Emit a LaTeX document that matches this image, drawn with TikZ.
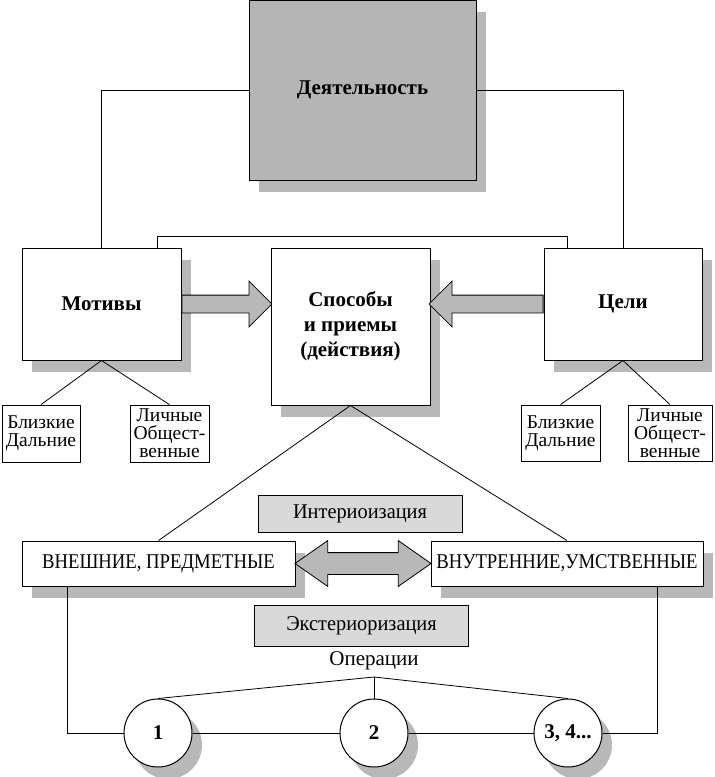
\documentclass[tikz,border=0pt]{standalone}
\usepackage{fontspec}
\setmainfont{Liberation Serif}
\newfontfamily\narrowfont[FakeStretch=0.89]{Liberation Serif}
\newfontfamily\tagfont[FakeStretch=0.97]{Liberation Serif}
\usetikzlibrary{shapes.arrows,shadows}

\definecolor{actgray}{gray}{0.71}
\definecolor{shadegray}{gray}{0.72}
\definecolor{taggray}{gray}{0.85}

\begin{document}
\begin{tikzpicture}[x=1pt,y=-1pt,
    box/.style={draw, fill=white, line width=1pt, inner sep=0pt, align=center,
        drop shadow={shadow xshift=10pt,shadow yshift=-12pt,fill=shadegray,opacity=1}},
    head/.style={font={\fontsize{21}{25}\selectfont\bfseries}},
    small/.style={draw, fill=white, line width=0.8pt, inner sep=0pt, align=center,
        font={\fontsize{19.5}{18}\selectfont}},
    tag/.style={draw, fill=taggray, line width=0.8pt, inner sep=0pt,
        font={\fontsize{21}{23}\selectfont\tagfont}},
    wide/.style={box, font={\fontsize{21}{23}\selectfont\narrowfont}},
    ring/.style={box, circle, minimum size=68pt, font={\fontsize{21}{23}\selectfont\bfseries}},
    fat/.style={draw, fill=shadegray, line width=0.8pt, single arrow, inner sep=0pt,
        text height=17pt, text depth=0pt, single arrow head extend=14pt,
        single arrow head indent=0pt},
    link/.style={line width=0.8pt},
    ]

    \useasboundingbox (0,0) rectangle (715,777);

    % top block
    \node[box, fill=actgray, head, minimum width=227pt, minimum height=180pt]
        (act) at (362.5,90) {Деятельность};

    % second row
    \node[box, head, minimum width=159pt, minimum height=112pt] (mot) at (101.5,304) {Мотивы};
    \node[box, head, minimum width=159pt, minimum height=157pt] (way) at (350.5,326.5)
        {Способы\\и приемы\\(действия)};
    \node[box, head, minimum width=158pt, minimum height=112pt] (goal) at (623,304) {Цели};

    \draw[link] (act.west) -| (mot.north);
    \draw[link] (act.east) -| (goal.north);
    \draw[link] ([xshift=56pt]mot.north) -- ++(0,-11) -| ([xshift=-56pt]goal.north);

    % block arrows
    \node[fat, anchor=tail, minimum height=90pt] (motway) at (mot.east) {};
    \node[fat, anchor=tail, shape border rotate=180, minimum height=114pt]
        (goalway) at (goal.west) {};

    % kinds
    \node[small, minimum width=78pt, minimum height=57pt] (mnear) at (41,433.5) {Близкие\\Дальние};
    \node[small, minimum width=79pt, minimum height=57pt] (mpers) at (169.5,433.5)
        {Личные\\Общест-\\венные};
    \node[small, minimum width=79pt, minimum height=56pt] (gnear) at (560.5,433) {Близкие\\Дальние};
    \node[small, minimum width=84pt, minimum height=56pt] (gpers) at (670,433)
        {Личные\\Общест-\\венные};

    \draw[link] (mot.south) -- (mnear.north);
    \draw[link] (mot.south) -- (mpers.north);
    \draw[link] (goal.south) -- (gnear.north);
    \draw[link] (goal.south) -- (gpers.north);

    % inner and outer
    \node[tag, minimum width=204pt, minimum height=37pt] (inter) at (360,513.5) {Интериоизация};
    \node[wide, minimum width=273pt, minimum height=45pt] (outer) at (158.5,563.5)
        {ВНЕШНИЕ, ПРЕДМЕТНЫЕ};
    \node[wide, minimum width=272pt, minimum height=45pt] (inner) at (567,563.5)
        {ВНУТРЕННИЕ,УМСТВЕННЫЕ};
    \node[tag, minimum width=214pt, minimum height=41pt] (exter) at (361.5,625.5) {Экстериоризация};

    \draw[link] (way.south) -- (outer.north);
    \draw[link] (way.south) -- (inner.north);

    \node[draw, fill=shadegray, line width=0.8pt, double arrow, inner sep=0pt,
        text height=21pt, text depth=0pt, double arrow head extend=12pt,
        double arrow tip angle=70, minimum height=136pt]
        (swap) at (363,563.5) {};

    % operations
    \node[font={\fontsize{21}{23}\selectfont}] (ops) at (374,661) {Операции};
    \coordinate (fork) at (374,677);

    \node[ring] (op1) at (158,733) {1};
    \node[ring] (op2) at (374,733) {2};
    \node[ring] (op3) at (568,733) {3, 4...};

    \draw[link] (fork) -- (op1.north);
    \draw[link] (fork) -- (op2.north);
    \draw[link] (fork) -- (op3.north);

    \draw[link] ([xshift=-91pt]outer.south) |- (op1.west);
    \draw[link] (op1.east) -- (op2.west);
    \draw[link] (op2.east) -- (op3.west);
    \draw[link] (op3.east) -| ([xshift=90.5pt]inner.south);
\end{tikzpicture}
\end{document}
